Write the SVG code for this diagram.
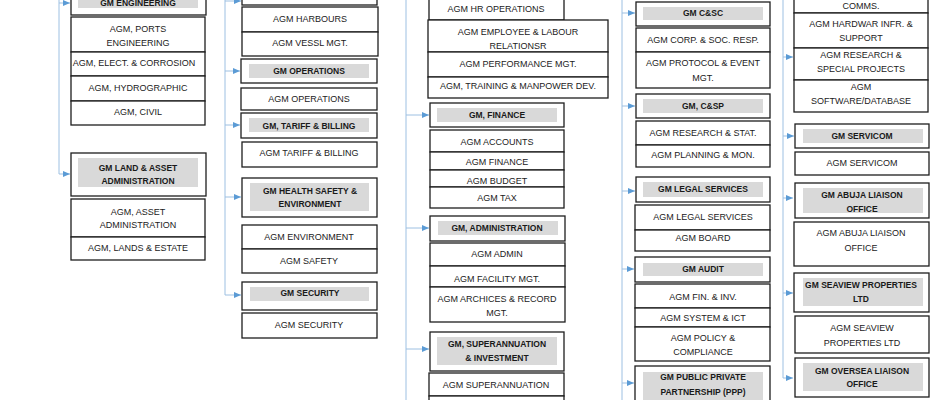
<svg xmlns="http://www.w3.org/2000/svg" width="940" height="400" viewBox="0 0 940 400">
<defs>
<style>
.bg{fill:#ffffff}
.box{fill:#ffffff;stroke:#1e1e1e;stroke-width:1.3}
.hd{fill:#d9d9d9;stroke:none}
.t{font-family:"Liberation Sans",Arial,sans-serif;font-size:9px;fill:#222;text-anchor:middle}
.b{font-family:"Liberation Sans",Arial,sans-serif;font-size:8.5px;font-weight:bold;fill:#1a1a1a;text-anchor:middle}
.ln{fill:none;stroke:#9dc0e2;stroke-width:1}
.ar{fill:none;stroke:#9dc0e2;stroke-width:1;marker-end:url(#ah)}
</style>
<marker id="ah" markerWidth="7" markerHeight="6" refX="7" refY="3" orient="auto" markerUnits="userSpaceOnUse"><path d="M0,0 L7,3 L0,6 z" fill="#5b9bd5"/></marker>
</defs>
<rect class="bg" x="0" y="0" width="940" height="400"/>

<g id="connectors">
<path class="ln" d="M59,0 V174"/>
<path class="ar" d="M59,3 H70"/>
<path class="ar" d="M59,174 H70"/>
<path class="ln" d="M225,0 V295"/>
<path class="ar" d="M225,1 H241"/>
<path class="ar" d="M225,71 H240"/>
<path class="ar" d="M225,125 H240"/>
<path class="ar" d="M225,197 H241"/>
<path class="ar" d="M225,295 H241"/>
<path class="ln" d="M406,0 V400"/>
<path class="ar" d="M406,115 H429"/>
<path class="ar" d="M406,228 H429"/>
<path class="ar" d="M406,349 H429"/>
<path class="ln" d="M622,0 V400"/>
<path class="ar" d="M622,13 H635"/>
<path class="ar" d="M622,106 H635"/>
<path class="ar" d="M622,191 H635"/>
<path class="ar" d="M622,269 H634"/>
<path class="ar" d="M622,383 H634"/>
<path class="ln" d="M783,0 V378"/>
<path class="ar" d="M783,57 H793"/>
<path class="ar" d="M783,136 H794"/>
<path class="ar" d="M783,198 H793"/>
<path class="ar" d="M783,293 H793"/>
<path class="ar" d="M783,378 H793"/>
</g>

<!-- Column 1 -->
<g id="gm-engineering">
<rect class="box" x="71" y="-12" width="135" height="27"/>
<rect class="hd" x="78" y="-6" width="120" height="14"/>
<text class="b" x="138" y="6">GM ENGINEERING</text>
</g>
<g id="agm-engineering">
<rect class="box" x="71" y="17" width="134" height="35"/>
<text class="t" x="138" y="32">AGM, PORTS</text>
<text class="t" x="138" y="46">ENGINEERING</text>
<rect class="box" x="71" y="52" width="134" height="24"/>
<text class="t" x="134" y="66">AGM, ELECT. &amp; CORROSION</text>
<rect class="box" x="71" y="76" width="134" height="25"/>
<text class="t" x="138" y="91">AGM, HYDROGRAPHIC</text>
<rect class="box" x="71" y="101" width="134" height="24"/>
<text class="t" x="138" y="115">AGM, CIVIL</text>
</g>
<g id="gm-land">
<rect class="box" x="71" y="153" width="135" height="43"/>
<rect class="hd" x="78" y="158" width="120" height="29"/>
<text class="b" x="138" y="171">GM LAND &amp; ASSET</text>
<text class="b" x="138" y="184">ADMINISTRATION</text>
</g>
<g id="agm-land">
<rect class="box" x="71" y="199" width="134" height="38"/>
<text class="t" x="138" y="215">AGM, ASSET</text>
<text class="t" x="138" y="228">ADMINISTRATION</text>
<rect class="box" x="71" y="237" width="134" height="23"/>
<text class="t" x="138" y="251">AGM, LANDS &amp; ESTATE</text>
</g>

<!-- Column 2 -->
<g id="gm-marine">
<rect class="box" x="242" y="-20" width="135" height="25"/>
<rect class="hd" x="250" y="-15" width="119" height="14"/>
</g>
<g id="agm-marine">
<rect class="box" x="242" y="7" width="136" height="25"/>
<text class="t" x="310" y="22">AGM HARBOURS</text>
<rect class="box" x="242" y="32" width="136" height="24"/>
<text class="t" x="310" y="46">AGM VESSL MGT.</text>
</g>
<g id="gm-operations">
<rect class="box" x="241" y="59" width="136" height="24"/>
<rect class="hd" x="249" y="64" width="120" height="14"/>
<text class="b" x="309" y="74">GM OPERATIONS</text>
</g>
<g id="agm-operations">
<rect class="box" x="241" y="88" width="136" height="22"/>
<text class="t" x="309" y="102">AGM OPERATIONS</text>
</g>
<g id="gm-tariff">
<rect class="box" x="241" y="113" width="136" height="25"/>
<rect class="hd" x="249" y="118" width="120" height="14"/>
<text class="b" x="309" y="129">GM, TARIFF &amp; BILLING</text>
</g>
<g id="agm-tariff">
<rect class="box" x="242" y="142" width="135" height="25"/>
<text class="t" x="309" y="156">AGM TARIFF &amp; BILLING</text>
</g>
<g id="gm-health">
<rect class="box" x="242" y="178" width="135" height="39"/>
<rect class="hd" x="250" y="183" width="119" height="28"/>
<text class="b" x="310" y="194">GM HEALTH SAFETY &amp;</text>
<text class="b" x="310" y="207">ENVIRONMENT</text>
</g>
<g id="agm-health">
<rect class="box" x="242" y="225" width="135" height="24"/>
<text class="t" x="309" y="240">AGM ENVIRONMENT</text>
<rect class="box" x="242" y="249" width="135" height="24"/>
<text class="t" x="309" y="264">AGM SAFETY</text>
</g>
<g id="gm-security">
<rect class="box" x="242" y="282" width="135" height="28"/>
<rect class="hd" x="250" y="287" width="119" height="14"/>
<text class="b" x="310" y="296">GM SECURITY</text>
</g>
<g id="agm-security">
<rect class="box" x="242" y="313" width="135" height="25"/>
<text class="t" x="309" y="328">AGM SECURITY</text>
</g>

<!-- Column 3 -->
<g id="agm-hr">
<rect class="box" x="429" y="-5" width="135" height="25"/>
<text class="t" x="496" y="12">AGM HR OPERATIONS</text>
<rect class="box" x="428" y="20" width="180" height="32"/>
<text class="t" x="518" y="35">AGM EMPLOYEE &amp; LABOUR</text>
<text class="t" x="518" y="49">RELATIONSR</text>
<rect class="box" x="428" y="52" width="180" height="25"/>
<text class="t" x="518" y="67">AGM PERFORMANCE MGT.</text>
<rect class="box" x="428" y="77" width="180" height="21"/>
<text class="t" x="518" y="89">AGM, TRAINING &amp; MANPOWER DEV.</text>
</g>
<g id="gm-finance">
<rect class="box" x="430" y="103" width="134" height="24"/>
<rect class="hd" x="437" y="108" width="120" height="14"/>
<text class="b" x="497" y="118">GM, FINANCE</text>
</g>
<g id="agm-finance">
<rect class="box" x="430" y="130" width="134" height="22"/>
<text class="t" x="497" y="145">AGM ACCOUNTS</text>
<rect class="box" x="430" y="152" width="134" height="18"/>
<text class="t" x="497" y="165">AGM FINANCE</text>
<rect class="box" x="430" y="170" width="134" height="17"/>
<text class="t" x="497" y="184">AGM BUDGET</text>
<rect class="box" x="430" y="187" width="134" height="21"/>
<text class="t" x="497" y="201">AGM TAX</text>
</g>
<g id="gm-administration">
<rect class="box" x="430" y="216" width="135" height="25"/>
<rect class="hd" x="438" y="221" width="120" height="14"/>
<text class="b" x="497" y="231">GM, ADMINISTRATION</text>
</g>
<g id="agm-administration">
<rect class="box" x="430" y="243" width="135" height="23"/>
<text class="t" x="497" y="257">AGM ADMIN</text>
<rect class="box" x="430" y="266" width="135" height="21"/>
<text class="t" x="497" y="282">AGM FACILITY MGT.</text>
<rect class="box" x="430" y="287" width="135" height="35"/>
<text class="t" x="497" y="302">AGM ARCHICES &amp; RECORD</text>
<text class="t" x="497" y="316">MGT.</text>
</g>
<g id="gm-superannuation">
<rect class="box" x="430" y="332" width="134" height="39"/>
<rect class="hd" x="437" y="337" width="120" height="28"/>
<text class="b" x="497" y="347">GM, SUPERANNUATION</text>
<text class="b" x="497" y="361">&amp; INVESTMENT</text>
</g>
<g id="agm-superannuation">
<rect class="box" x="429" y="373" width="135" height="23"/>
<text class="t" x="496" y="388">AGM SUPERANNUATION</text>
<rect class="box" x="429" y="396" width="135" height="24"/>
</g>

<!-- Column 4 -->
<g id="gm-csc">
<rect class="box" x="636" y="2" width="134" height="24"/>
<rect class="hd" x="643" y="7" width="120" height="13"/>
<text class="b" x="703" y="16">GM C&amp;SC</text>
</g>
<g id="agm-csc">
<rect class="box" x="636" y="28" width="134" height="24"/>
<text class="t" x="703" y="43">AGM CORP. &amp; SOC. RESP.</text>
<rect class="box" x="636" y="52" width="134" height="36"/>
<text class="t" x="703" y="66">AGM PROTOCOL &amp; EVENT</text>
<text class="t" x="703" y="81">MGT.</text>
</g>
<g id="gm-csp">
<rect class="box" x="636" y="94" width="134" height="24"/>
<rect class="hd" x="643" y="99" width="120" height="14"/>
<text class="b" x="703" y="109">GM, C&amp;SP</text>
</g>
<g id="agm-csp">
<rect class="box" x="636" y="121" width="134" height="24"/>
<text class="t" x="703" y="136">AGM RESEARCH &amp; STAT.</text>
<rect class="box" x="636" y="145" width="134" height="22"/>
<text class="t" x="703" y="158">AGM PLANNING &amp; MON.</text>
</g>
<g id="gm-legal">
<rect class="box" x="636" y="177" width="134" height="25"/>
<rect class="hd" x="643" y="182" width="120" height="15"/>
<text class="b" x="703" y="192">GM LEGAL SERVICES</text>
</g>
<g id="agm-legal">
<rect class="box" x="635" y="205" width="135" height="25"/>
<text class="t" x="703" y="220">AGM LEGAL SERVICES</text>
<rect class="box" x="635" y="230" width="135" height="21"/>
<text class="t" x="703" y="241">AGM BOARD</text>
</g>
<g id="gm-audit">
<rect class="box" x="635" y="257" width="135" height="25"/>
<rect class="hd" x="643" y="263" width="120" height="13"/>
<text class="b" x="703" y="272">GM AUDIT</text>
</g>
<g id="agm-audit">
<rect class="box" x="635" y="284" width="135" height="24"/>
<text class="t" x="703" y="300">AGM FIN. &amp; INV.</text>
<rect class="box" x="635" y="308" width="135" height="19"/>
<text class="t" x="703" y="321">AGM SYSTEM &amp; ICT</text>
<rect class="box" x="635" y="327" width="135" height="34"/>
<text class="t" x="703" y="341">AGM POLICY &amp;</text>
<text class="t" x="703" y="355">COMPLIANCE</text>
</g>
<g id="gm-ppp">
<rect class="box" x="635" y="366" width="135" height="40"/>
<rect class="hd" x="643" y="372" width="120" height="30"/>
<text class="b" x="703" y="380">GM PUBLIC PRIVATE</text>
<text class="b" x="703" y="395">PARTNERSHIP (PPP)</text>
</g>

<!-- Column 5 -->
<g id="agm-ict">
<rect class="box" x="794" y="-20" width="134" height="33"/>
<text class="t" x="861" y="9">COMMS.</text>
<rect class="box" x="794" y="13" width="134" height="35"/>
<text class="t" x="861" y="27">AGM HARDWAR INFR. &amp;</text>
<text class="t" x="861" y="41">SUPPORT</text>
<rect class="box" x="794" y="48" width="134" height="32"/>
<text class="t" x="861" y="58">AGM RESEARCH &amp;</text>
<text class="t" x="861" y="72">SPECIAL PROJECTS</text>
<rect class="box" x="794" y="80" width="134" height="32"/>
<text class="t" x="861" y="90">AGM</text>
<text class="t" x="861" y="104">SOFTWARE/DATABASE</text>
</g>
<g id="gm-servicom">
<rect class="box" x="795" y="124" width="134" height="24"/>
<rect class="hd" x="803" y="129" width="120" height="14"/>
<text class="b" x="862" y="139">GM SERVICOM</text>
</g>
<g id="agm-servicom">
<rect class="box" x="795" y="152" width="134" height="23"/>
<text class="t" x="862" y="166">AGM SERVICOM</text>
</g>
<g id="gm-abuja">
<rect class="box" x="795" y="183" width="134" height="35"/>
<rect class="hd" x="803" y="188" width="120" height="25"/>
<text class="b" x="862" y="198">GM ABUJA LIAISON</text>
<text class="b" x="862" y="212">OFFICE</text>
</g>
<g id="agm-abuja">
<rect class="box" x="794" y="222" width="135" height="44"/>
<text class="t" x="861" y="236">AGM ABUJA LIAISON</text>
<text class="t" x="861" y="251">OFFICE</text>
</g>
<g id="gm-seaview">
<rect class="box" x="794" y="273" width="135" height="39"/>
<rect class="hd" x="803" y="278" width="120" height="28"/>
<text class="b" x="861" y="288">GM SEAVIEW PROPERTIES</text>
<text class="b" x="861" y="302">LTD</text>
</g>
<g id="agm-seaview">
<rect class="box" x="795" y="316" width="134" height="37"/>
<text class="t" x="862" y="331">AGM SEAVIEW</text>
<text class="t" x="862" y="346">PROPERTIES LTD</text>
</g>
<g id="gm-oversea">
<rect class="box" x="795" y="358" width="134" height="39"/>
<rect class="hd" x="803" y="363" width="120" height="28"/>
<text class="b" x="862" y="374">GM OVERSEA LIAISON</text>
<text class="b" x="862" y="387">OFFICE</text>
</g>
</svg>
